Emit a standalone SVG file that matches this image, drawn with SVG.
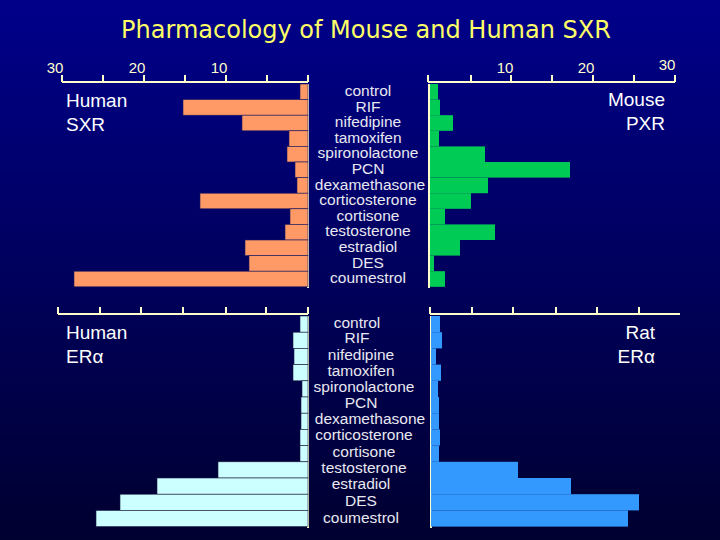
<svg xmlns="http://www.w3.org/2000/svg" width="720" height="540" viewBox="0 0 720 540">
<defs>
<linearGradient id="bg" x1="0" y1="0" x2="0" y2="1"><stop offset="0" stop-color="#00008a"/><stop offset="1" stop-color="#000030"/></linearGradient>
<style>
text{font-family:"Liberation Sans",Arial,sans-serif}
.ax{stroke:#ffffcc;stroke-width:2;fill:none}
.lbl{fill:#e8e8f0;font-size:15.5px;text-anchor:middle;dominant-baseline:middle}
.num{fill:#ffffcc;font-size:15px;text-anchor:middle}
.nm{fill:#ffffff;font-size:19px}
.o rect{fill:#ff9966;stroke:#1a1a60;stroke-width:0.6}
.g rect{fill:#00cc55;stroke:none}
.c rect{fill:#ccffff;stroke:#1a1a40;stroke-width:0.6}
.b rect{fill:#3399ff;stroke:none}
</style>
</defs>
<rect width="720" height="540" fill="url(#bg)"/>
<text x="366" y="38" fill="#ffff66" font-size="24" text-anchor="middle" style="font-family:'DejaVu Sans',sans-serif">Pharmacology of Mouse and Human SXR</text>
<g id="axes">
<path class="ax" d="M62 82H308M62 82V75M103 82V75M144 82V75M185 82V75M226 82V75M267 82V75M308 82V75M308 84V288"/>
<path class="ax" d="M428 82H675M428 82V75M471 82V75M511 82V75M552 82V75M593 82V75M634 82V75M675 82V75M429 84V288"/>
<path class="ax" d="M58 314H308M58 314V307M100 314V307M141 314V307M183 314V307M226 314V307M266 314V307M308 314V307M308 316V528"/>
<path class="ax" d="M430 314H680M430 314V307M472 314V307M513 314V307M556 314V307M597 314V307M639 314V307M431 316V528"/>
<text class="num" x="55" y="73">30</text><text class="num" x="137" y="73">20</text><text class="num" x="219" y="73">10</text>
<text class="num" x="505" y="73">10</text><text class="num" x="586" y="73">20</text><text class="num" x="667" y="70">30</text>
</g>
<g id="human-sxr" class="o">
<rect x="300" y="84" width="8" height="15.6"/><rect x="183" y="99.6" width="125" height="15.6"/><rect x="242" y="115.2" width="66" height="15.6"/><rect x="289" y="130.8" width="19" height="15.6"/><rect x="287" y="146.4" width="21" height="15.6"/><rect x="295" y="162" width="13" height="15.6"/><rect x="297" y="177.6" width="11" height="15.6"/><rect x="200" y="193.2" width="108" height="15.6"/><rect x="290" y="208.8" width="18" height="15.6"/><rect x="285" y="224.4" width="23" height="15.6"/><rect x="245" y="240" width="63" height="15.6"/><rect x="249" y="255.6" width="59" height="15.6"/><rect x="74" y="271.2" width="234" height="15.6"/>
<text class="nm" x="66" y="107">Human</text><text class="nm" x="66" y="131">SXR</text>
</g>
<g id="mouse-pxr" class="g">
<rect x="430" y="84" width="8" height="15.6"/><rect x="430" y="99.6" width="10" height="15.6"/><rect x="430" y="115.2" width="23" height="15.6"/><rect x="430" y="130.8" width="9" height="15.6"/><rect x="430" y="146.4" width="55" height="15.6"/><rect x="430" y="162" width="140" height="15.6"/><rect x="430" y="177.6" width="58" height="15.6"/><rect x="430" y="193.2" width="41" height="15.6"/><rect x="430" y="208.8" width="15" height="15.6"/><rect x="430" y="224.4" width="65" height="15.6"/><rect x="430" y="240" width="30" height="15.6"/><rect x="430" y="255.6" width="4" height="15.6"/><rect x="430" y="271.2" width="15" height="15.6"/>
<text class="nm" x="665" y="106" text-anchor="end">Mouse</text><text class="nm" x="665" y="130" text-anchor="end">PXR</text>
</g>
<g id="human-era" class="c">
<rect x="300" y="316" width="8" height="16.2"/><rect x="293" y="332.2" width="15" height="16.2"/><rect x="294" y="348.4" width="14" height="16.2"/><rect x="293" y="364.6" width="15" height="16.2"/><rect x="302" y="380.8" width="6" height="16.2"/><rect x="301" y="397" width="7" height="16.2"/><rect x="301" y="413.2" width="7" height="16.2"/><rect x="300" y="429.4" width="8" height="16.2"/><rect x="300" y="445.6" width="8" height="16.2"/><rect x="218" y="461.8" width="90" height="16.2"/><rect x="157" y="478" width="151" height="16.2"/><rect x="120" y="494.2" width="188" height="16.2"/><rect x="96" y="510.4" width="212" height="16.2"/>
<text class="nm" x="66" y="339">Human</text><text class="nm" x="66" y="363">ERα</text>
</g>
<g id="rat-era" class="b">
<rect x="431" y="316" width="9" height="16.2"/><rect x="431" y="332.2" width="11" height="16.2"/><rect x="431" y="348.4" width="5" height="16.2"/><rect x="431" y="364.6" width="10" height="16.2"/><rect x="431" y="380.8" width="7" height="16.2"/><rect x="431" y="397" width="8" height="16.2"/><rect x="431" y="413.2" width="8" height="16.2"/><rect x="431" y="429.4" width="9" height="16.2"/><rect x="431" y="445.6" width="8" height="16.2"/><rect x="431" y="461.8" width="87" height="16.2"/><rect x="431" y="478" width="140" height="16.2"/><rect x="431" y="494.2" width="208" height="16.2"/><rect x="431" y="510.4" width="197" height="16.2"/>
<text class="nm" x="655" y="339" text-anchor="end">Rat</text><text class="nm" x="655" y="363" text-anchor="end">ERα</text>
</g>
<g id="labels-top">
<text class="lbl" x="368" y="92">control</text><text class="lbl" x="368" y="107.6">RIF</text><text class="lbl" x="368" y="123.2">nifedipine</text><text class="lbl" x="368" y="138.8">tamoxifen</text><text class="lbl" x="368" y="154.4">spironolactone</text><text class="lbl" x="368" y="170">PCN</text><text class="lbl" x="370" y="185.6">dexamethasone</text><text class="lbl" x="368" y="201.2">corticosterone</text><text class="lbl" x="368" y="216.8">cortisone</text><text class="lbl" x="368" y="232.4">testosterone</text><text class="lbl" x="368" y="248">estradiol</text><text class="lbl" x="368" y="263.6">DES</text><text class="lbl" x="368" y="279.2">coumestrol</text>
</g>
<g id="labels-bottom">
<text class="lbl" x="357" y="324">control</text><text class="lbl" x="357" y="339">RIF</text><text class="lbl" x="361" y="356">nifedipine</text><text class="lbl" x="361" y="372">tamoxifen</text><text class="lbl" x="364" y="387.8">spironolactone</text><text class="lbl" x="361" y="404">PCN</text><text class="lbl" x="370" y="420.2">dexamethasone</text><text class="lbl" x="364" y="436.4">corticosterone</text><text class="lbl" x="364" y="452.6">cortisone</text><text class="lbl" x="364" y="468.8">testosterone</text><text class="lbl" x="361" y="485">estradiol</text><text class="lbl" x="361" y="502.2">DES</text><text class="lbl" x="361" y="519">coumestrol</text>
</g>
</svg>
